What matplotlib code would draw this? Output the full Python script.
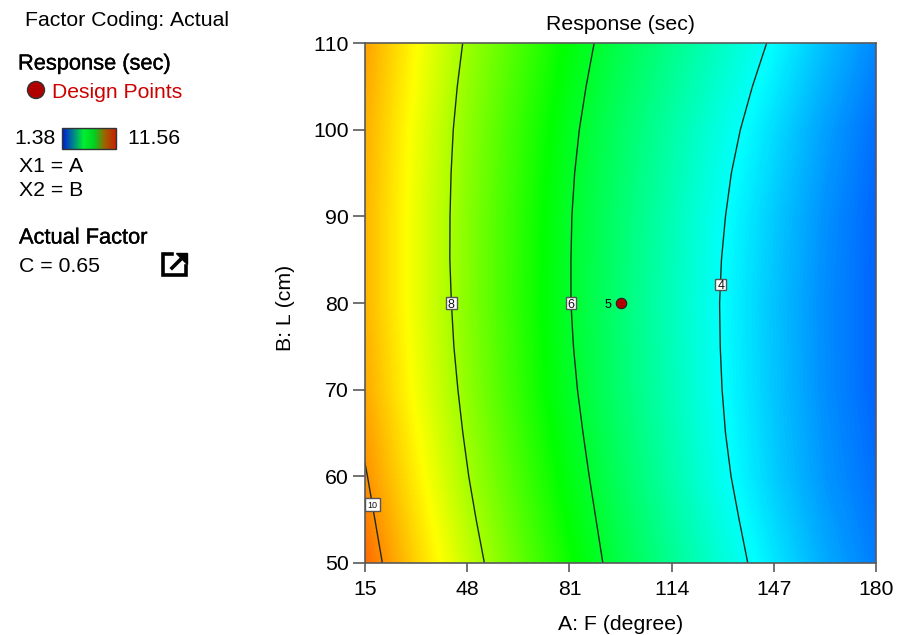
#!/usr/bin/env python3
# plot.py - contour plot of response over A: F and B: L

import matplotlib

matplotlib.use("Agg")
import matplotlib.patheffects as pe
import matplotlib.pyplot as plt
import numpy as np
from matplotlib.colors import LinearSegmentedColormap
from matplotlib.patches import Circle, Rectangle

plt.rcParams["font.family"] = ["Liberation Sans", "DejaVu Sans"]
plt.rcParams["text.kerning_factor"] = 6

# values
f_grid = [15, 31.5, 48, 64.5, 81, 97.5, 114, 130.5, 147, 163.5, 180]
l_grid = [50, 60, 70, 80, 90, 100, 110]
response = [
    [10.45, 9.33, 8.33, 7.42, 6.57, 5.76, 5.05, 4.34, 3.70, 3.10, 2.65],
    [10.03, 9.02, 8.02, 7.16, 6.30, 5.53, 4.80, 4.07, 3.45, 2.90, 2.50],
    [9.76, 8.77, 7.81, 6.95, 6.09, 5.37, 4.67, 3.97, 3.37, 2.82, 2.40],
    [9.64, 8.67, 7.73, 6.88, 6.03, 5.33, 4.63, 3.94, 3.35, 2.80, 2.40],
    [9.64, 8.67, 7.74, 6.90, 6.06, 5.37, 4.69, 4.00, 3.42, 2.85, 2.40],
    [9.70, 8.73, 7.80, 6.99, 6.17, 5.49, 4.84, 4.19, 3.60, 3.00, 2.50],
    [9.83, 8.88, 7.93, 7.17, 6.40, 5.71, 5.12, 4.52, 3.92, 3.30, 2.75],
]

# contour lines: F position for each L row
line_l = [110, 105, 100, 95, 90, 85, 80, 75, 70, 65, 60, 55, 50]
line_f_4 = [144.7, 140.1, 136.2, 133.3, 131.4, 130.1, 129.5, 129.7, 130.3, 131.4, 133.2, 135.8, 138.6]
line_f_6 = [89.0, 86.4, 84.2, 82.7, 81.8, 81.5, 81.5, 82.3, 83.6, 85.4, 87.4, 89.6, 91.8]
line_f_8 = [46.55, 44.8, 43.5, 42.8, 42.45, 42.4, 42.9, 43.7, 45.0, 46.6, 48.5, 50.9, 53.55]
line10_l = [61.5, 60, 55, 50]
line10_f = [15, 15.8, 18.2, 20.6]

label_text = ["4", "6", "8", "10"]
label_f = [129.9, 81.5, 42.9, 17.4]
label_l = [82.1, 80, 80, 56.75]
design_f = [97.5]
design_l = [80]
design_text = ["5"]
x_ticks = [15, 48, 81, 114, 147, 180]
y_ticks = [50, 60, 70, 80, 90, 100, 110]
resp_min = 1.38
resp_max = 11.56

W, H = 901, 635
DARK = "#1c2b1c"
AXC = "#5a5a5a"
FS = 15.3


def plot(ax):
    cmap = LinearSegmentedColormap.from_list(
        "de",
        [(0, "#0000ff"), (0.25, "#00ffff"), (0.5, "#00ff00"), (0.735, "#ffff00"), (1, "#ff0000")],
    )
    ax.imshow(
        np.array(response),
        cmap=cmap,
        vmin=resp_min,
        vmax=resp_max,
        origin="lower",
        aspect="auto",
        interpolation="bilinear",
        interpolation_stage="data",
        extent=(15 - 8.25, 180 + 8.25, 45, 115),
    )
    for fs in (line_f_4, line_f_6, line_f_8):
        ax.plot(fs, line_l, color=DARK, lw=1.0)
    ax.plot(line10_f, line10_l, color=DARK, lw=1.0)

    # boxed contour labels, box sizes in axis units
    for txt, fx, ly in zip(label_text, label_f, label_l):
        bw = 4.8 if txt == "10" else 3.5
        bh = 1.4 if txt == "10" else 1.3
        ax.add_patch(Rectangle((fx - bw / 2, ly - bh / 2), bw, bh, fc="white", ec="#555555", lw=1, zorder=4))
        ax.text(fx, ly, txt, fontsize=6.5 if txt == "10" else 9, ha="center", va="center_baseline",
                color="#111111", zorder=5)

    ax.plot(design_f, design_l, "o", ms=7.5, mfc="#b00000", mec="#222222", mew=0.8, zorder=5)
    ax.text(design_f[0] - 3, design_l[0], design_text[0], fontsize=9, ha="right", va="center_baseline")

    ax.set_xlim(15, 180)
    ax.set_ylim(50, 110)
    ax.set_xticks(x_ticks)
    ax.set_yticks(y_ticks)
    ax.tick_params(axis="x", length=6.5, width=1.2, color=AXC, labelsize=FS, pad=6)
    ax.tick_params(axis="y", length=8.5, width=1.2, color=AXC, labelsize=FS, pad=3)
    for s in ax.spines.values():
        s.set_color(AXC)
        s.set_linewidth(1.2)
    ax.set_title("Response (sec)", fontsize=FS, pad=9)
    ax.set_xlabel("A: F (degree)", fontsize=FS, labelpad=11)
    ax.set_ylabel("B: L (cm)", fontsize=FS, labelpad=13, y=0.49)


def side_panel(fig):
    # overlay in pixel coordinates for the left hand notes
    pn = fig.add_axes([0, 0, 1, 1], facecolor="none")
    heavy = [pe.withStroke(linewidth=0.25, foreground="black")]

    pn.text(25, 20, "Factor Coding: Actual", fontsize=FS, va="center")
    pn.text(18, 64, "Response (sec)", fontsize=15.7, va="center", path_effects=heavy)
    pn.add_patch(Circle((36, 90), 8.5, fc="#b00000", ec="#333333", lw=1))
    pn.text(52, 92, "Design Points", fontsize=15.2, color="#cc0000", va="center")
    pn.text(14, 138, "1.38", fontsize=FS, va="center")
    pn.text(127, 138, "11.56", fontsize=FS, va="center")
    pn.text(19, 167, "X1 = A", fontsize=FS, va="center")
    pn.text(19, 190, "X2 = B", fontsize=FS, va="center")
    pn.text(19, 238, "Actual Factor", fontsize=15.7, va="center", path_effects=heavy)
    pn.text(19, 266, "C = 0.65", fontsize=FS, va="center")

    # small colour key
    key = LinearSegmentedColormap.from_list(
        "key", ["#0018d8", "#008090", "#00f030", "#00d020", "#a06000", "#c82000"]
    )
    pn.imshow(
        np.linspace(0, 1, 128).reshape(1, -1),
        cmap=key,
        extent=(62, 116, 149, 128),
        aspect="auto",
        zorder=2,
    )
    pn.add_patch(Rectangle((62, 128), 54, 21, fc="none", ec="#333333", lw=1, zorder=3))

    # export icon
    pn.plot([172, 163, 163, 186, 186], [254, 254, 275, 275, 266], color="black", lw=2.6,
            solid_joinstyle="miter")
    pn.plot([172, 183], [268, 257], color="black", lw=2.6)
    pn.fill([176, 187, 187], [253, 253, 264], color="black")

    pn.set_xlim(0, W)
    pn.set_ylim(H, 0)
    pn.axis("off")


def main():
    fig = plt.figure(figsize=(W / 100, H / 100), dpi=100)
    ax = fig.add_axes([365 / W, 1 - 563 / H, 511 / W, 520 / H])
    plot(ax)
    side_panel(fig)
    fig.savefig("out.png", dpi=100)


if __name__ == "__main__":
    main()
